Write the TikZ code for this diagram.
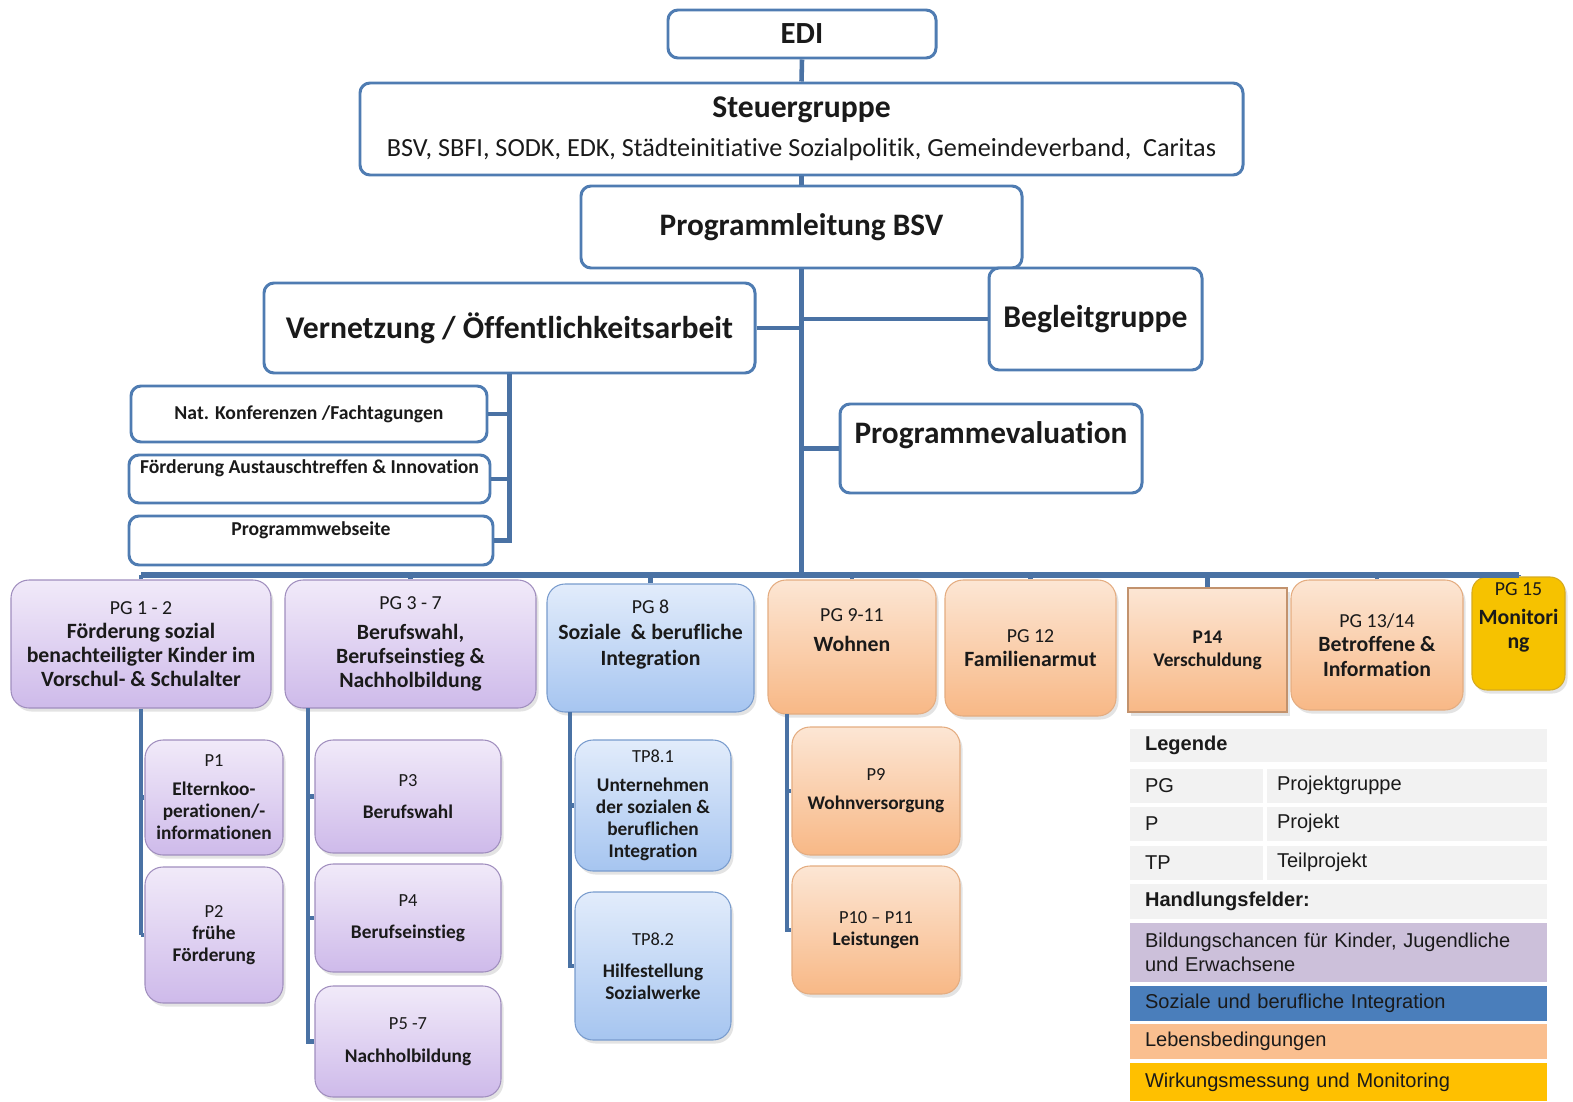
\documentclass[tikz,border=0pt]{standalone}
\usepackage{fontspec}
\setmainfont{Carlito}[Ligatures=CommonOff]
\newfontfamily\legendfont{Liberation Sans}
\usetikzlibrary{shadows}

\definecolor{lineblue}{RGB}{79,124,178}
\definecolor{linkblue}{RGB}{74,114,164}
\definecolor{purpletop}{RGB}{241,234,249}
\definecolor{purplebot}{RGB}{206,186,234}
\definecolor{purpleedge}{RGB}{160,142,190}
\definecolor{bluetop}{RGB}{226,236,251}
\definecolor{bluebot}{RGB}{166,197,240}
\definecolor{blueedge}{RGB}{120,155,205}
\definecolor{orangetop}{RGB}{252,230,212}
\definecolor{orangebot}{RGB}{248,184,134}
\definecolor{orangeedge}{RGB}{228,172,128}
\definecolor{goldfill}{RGB}{246,194,0}
\definecolor{goldedge}{RGB}{214,170,30}
\definecolor{lgray}{RGB}{242,242,242}
\definecolor{lpurple}{RGB}{204,192,218}
\definecolor{lblue}{RGB}{74,126,187}
\definecolor{lorange}{RGB}{250,191,143}
\definecolor{lgold}{RGB}{255,192,0}
\definecolor{ink}{RGB}{26,26,26}

\newcommand{\fsz}[2]{\fontsize{#1pt}{#2pt}\selectfont}

\begin{document}
\begin{tikzpicture}
        [x=0.02cm, y=-0.02cm,
         every node/.style={text=ink, inner sep=2pt},
         size/.style 2 args={minimum width=#1*0.02cm, minimum height=#2*0.02cm},
         outbox/.style={draw=lineblue, line width=1.7pt, fill=white, rounded corners=0.2cm, align=center},
         softshadow/.style={drop shadow={opacity=0.22, shadow xshift=0.05cm, shadow yshift=-0.07cm}},
         lilacbox/.style={draw=purpleedge, line width=0.6pt, top color=purpletop, bottom color=purplebot, rounded corners=0.36cm, align=center, softshadow},
         skybox/.style={draw=blueedge, line width=0.6pt, top color=bluetop, bottom color=bluebot, rounded corners=0.36cm, align=center, softshadow},
         peachbox/.style={draw=orangeedge, line width=0.6pt, top color=orangetop, bottom color=orangebot, rounded corners=0.36cm, align=center, softshadow},
         goldbox/.style={draw=goldedge, line width=0.6pt, fill=goldfill, rounded corners=0.3cm, align=center, softshadow},
         grouptext/.style={font=\bfseries\fsz{12.4}{13.8}},
         projtext/.style={font=\bfseries\fsz{11}{12.5}},
         cell/.style={fill=#1, font=\legendfont\fsz{11.4}{13.5}, align=left, inner xsep=0.3cm, inner ysep=0pt, text width=7.74cm},
         conn/.style={draw=linkblue, line width=2.6pt}]

        \useasboundingbox (0,0) rectangle (1573,1102);

        \node[outbox, size={268}{48}, font=\bfseries\fsz{17.5}{20}] (edi) at (802,34) {EDI};
        \node[outbox, size={883}{92}, font=\fsz{14.9}{17}] (steuer) at (801.5,129)
          {{\bfseries\fsz{18}{21}Steuergruppe}\\[5pt]BSV, SBFI, SODK, EDK, Städteinitiative Sozialpolitik, Gemeindeverband,\ \ Caritas};
        \node[outbox, size={441}{82}, font=\bfseries\fsz{17.8}{20}] (leit) at (801.5,227) {Programmleitung BSV};
        \node[outbox, size={491}{90}, font=\bfseries\fsz{18}{21}] (vern) at (509.5,328) {Vernetzung / Öffentlichkeitsarbeit};
        \node[outbox, size={213}{102}, font=\bfseries\fsz{18}{21}] (begl) at (1095.5,319) {Begleitgruppe};
        \node[outbox, size={302}{89}, label={[font=\bfseries\fsz{17.8}{21}, yshift=0.26cm]center:Programmevaluation}] (eval) at (991,448.5) {};

        \node[outbox, size={356}{56}, font=\bfseries\fsz{11.2}{13}] (nat) at (309,414) {Nat. Konferenzen /Fachtagungen};
        \node[outbox, size={361}{48}, label={[font=\bfseries\fsz{11.2}{13}, yshift=0.22cm]center:Förderung Austauschtreffen \& Innovation}] (foerd) at (309.5,479) {};
        \node[outbox, size={364}{49}, label={[font=\bfseries\fsz{11.2}{13}, yshift=0.2cm]center:Programmwebseite}] (web) at (311,540.5) {};

        \node[lilacbox, size={260}{128}, grouptext] (pg12) at (141,644)
          {{\mdseries\fsz{11.3}{13.8}PG 1 - 2}\\Förderung sozial\\benachteiligter Kinder im\\Vorschul- \& Schulalter};
        \node[lilacbox, size={251}{128}, grouptext] (pg37) at (410.5,644)
          {{\mdseries\fsz{11.3}{13.8}PG 3 - 7}\\[3pt]Berufswahl,\\Berufseinstieg \&\\Nachholbildung};
        \node[skybox, size={207}{128}, grouptext, label={[grouptext, align=center, yshift=0.26cm]center:{{\mdseries\fsz{11.3}{13.8}PG 8}\\[1pt]Soziale\ \ \& berufliche\\[1pt]Integration}}] (pg8) at (650.5,648) {};
        \node[peachbox, size={168}{134}, grouptext, label={[grouptext, align=center, yshift=0.34cm]center:{{\mdseries\fsz{11.3}{13.8}PG 9-11}\\[3pt]Wohnen}}] (pg911) at (852,647) {};
        \node[peachbox, size={171}{136}, grouptext] (pgfam) at (1030.5,648)
          {{\mdseries\fsz{11.3}{13.8}PG 12}\\Familienarmut};
        \node[peachbox, rounded corners=0pt, draw=orangeedge!85!black, size={159}{124}, font=\bfseries\fsz{11}{13}] (p14) at (1207.5,650)
          {P14\\Verschuldung};
        \node[peachbox, size={172}{130}, grouptext] (pg1314) at (1377,645)
          {{\mdseries\fsz{11.3}{13.8}PG 13/14}\\Betroffene \&\\Information};
        \node[goldbox, size={93}{113}, grouptext, label={[grouptext, align=center, yshift=0.32cm]center:{{\mdseries\fsz{11.3}{13.8}PG 15}\\[3pt]Monitori\\ng}}] (pg15) at (1518.5,633.5) {};

        \node[lilacbox, size={138}{115}, projtext] (p1) at (214,797.5)
          {{\mdseries\fsz{10.5}{12.5}P1}\\[4pt]Elternkoo-\\perationen/-\\informationen};
        \node[lilacbox, size={138}{136}, projtext] (p2) at (214,935)
          {{\mdseries\fsz{10.5}{12.5}P2}\\frühe\\Förderung};
        \node[lilacbox, size={186}{113}, projtext] (p3) at (408,796.5)
          {{\mdseries\fsz{10.5}{12.5}P3}\\[6pt]Berufswahl};
        \node[lilacbox, size={186}{108}, projtext] (p4) at (408,918)
          {{\mdseries\fsz{10.5}{12.5}P4}\\[6pt]Berufseinstieg};
        \node[lilacbox, size={186}{111}, projtext] (p57) at (408,1041.5)
          {{\mdseries\fsz{10.5}{12.5}P5 -7}\\[6pt]Nachholbildung};
        \node[skybox, size={156}{131}, projtext] (tp81) at (653,805.5)
          {{\mdseries\fsz{10.5}{12.5}TP8.1}\\[4pt]Unternehmen\\der sozialen \&\\beruflichen\\Integration};
        \node[skybox, size={156}{148}, projtext] (tp82) at (653,966)
          {{\mdseries\fsz{10.5}{12.5}TP8.2}\\[6pt]Hilfestellung\\Sozialwerke};
        \node[peachbox, size={168}{128}, projtext] (p9) at (876,791)
          {{\mdseries\fsz{10.5}{12.5}P9}\\[4pt]Wohnversorgung};
        \node[peachbox, size={168}{128}, projtext] (p1011) at (876,930)
          {{\mdseries\fsz{10.5}{12.5}P10 -- P11}\\Leistungen};

        \node[cell=lgray, minimum height=33*0.02cm] (lhead) at (1338.5,745) {\bfseries Legende};
        \node[cell=lgray, minimum height=34*0.02cm, text width=2.06cm] (lpg) at (1196.5,785.5) {PG};
        \node[cell=lgray, minimum height=34*0.02cm, text width=5.2cm, inner xsep=0.2cm] (lpgt) at (1407,785.5) {Projektgruppe};
        \node[cell=lgray, minimum height=34*0.02cm, text width=2.06cm] (lp) at (1196.5,823.5) {P};
        \node[cell=lgray, minimum height=34*0.02cm, text width=5.2cm, inner xsep=0.2cm] (lpt) at (1407,823.5) {Projekt};
        \node[cell=lgray, minimum height=34*0.02cm, text width=2.06cm] (ltp) at (1196.5,862.5) {TP};
        \node[cell=lgray, minimum height=34*0.02cm, text width=5.2cm, inner xsep=0.2cm] (ltpt) at (1407,862.5) {Teilprojekt};
        \node[cell=lgray, minimum height=35*0.02cm] (lhf) at (1338.5,901) {\bfseries Handlungsfelder:};
        \node[cell=lpurple, minimum height=59*0.02cm] (lbild) at (1338.5,952) {Bildungschancen für Kinder, Jugendliche\\und Erwachsene};
        \node[cell=lblue, minimum height=35*0.02cm] (lsoz) at (1338.5,1003) {Soziale und berufliche Integration};
        \node[cell=lorange, minimum height=35*0.02cm] (lleb) at (1338.5,1041.5) {Lebensbedingungen};
        \node[cell=lgold, minimum height=38*0.02cm] (lwirk) at (1338.5,1082) {Wirkungsmessung und Monitoring};

        \coordinate (bus) at (801.5,575);
        \coordinate (k37) at (308,708);
        \coordinate (k8) at (570,712);
        \coordinate (k911) at (787,714);

        \draw[conn] (edi.south) -- (steuer.north);
        \draw[conn] (steuer.south) -- (leit.north);
        \draw[conn, line width=3pt] (leit.south) -- (bus);
        \draw[conn] (vern.east) -- (vern.east -| leit.south);
        \draw[conn] (begl.west) -- (begl.west -| leit.south);
        \draw[conn] (eval.west) -- (eval.west -| leit.south);
        \draw[conn] (vern.south) |- (nat.east);
        \draw[conn] (vern.south) |- (foerd.east);
        \draw[conn] (vern.south) |- (web.east);

        \draw[conn, line width=3pt] (pg12.north |- bus) -- (pg15.north |- bus);
        \draw[conn] (pg12.north) -- (pg12.north |- bus);
        \draw[conn] (pg37.north) -- (pg37.north |- bus);
        \draw[conn] (pg8.north) -- (pg8.north |- bus);
        \draw[conn] (pg911.north) -- (pg911.north |- bus);
        \draw[conn] (pgfam.north) -- (pgfam.north |- bus);
        \draw[conn] (p14.north) -- (p14.north |- bus);
        \draw[conn] (pg1314.north) -- (pg1314.north |- bus);
        \draw[conn] (pg15.north) -- (pg15.north |- bus);

        \draw[conn] (pg12.south) -- (pg12.south |- p2.west);
        \draw[conn] (p1.west) -- (p1.west -| pg12.south);
        \draw[conn] (p2.west) -- (p2.west -| pg12.south);
        \draw[conn] (k37) |- (p57.west);
        \draw[conn] (k37 |- p3.west) -- (p3.west);
        \draw[conn] (k37 |- p4.west) -- (p4.west);
        \draw[conn] (k8) |- (tp82.west);
        \draw[conn] (k8 |- tp81.west) -- (tp81.west);
        \draw[conn] (k911) |- (p1011.west);
        \draw[conn] (k911 |- p9.west) -- (p9.west);

      \end{tikzpicture}
\end{document}
